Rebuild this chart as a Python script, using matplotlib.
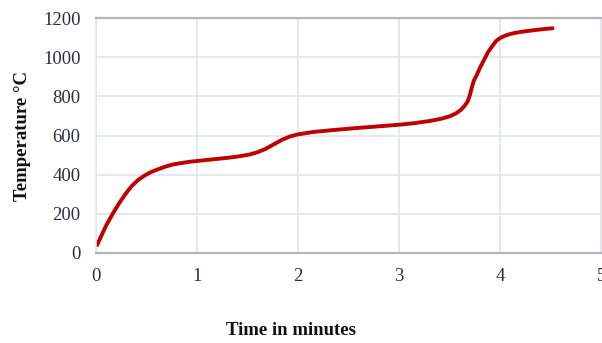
import matplotlib
matplotlib.use("Agg")
import matplotlib.pyplot as plt

# heating curve readings: time (min) vs temperature (deg C)
time_min = [0.01, 0.05, 0.10, 0.17, 0.23, 0.29, 0.35, 0.41, 0.47, 0.53,
            0.60, 0.68, 0.76, 0.85, 0.93, 1.00, 1.15, 1.30, 1.42, 1.52,
            1.60, 1.68, 1.76, 1.84, 1.92, 2.00, 2.15, 2.35, 2.55, 2.75,
            3.00, 3.15, 3.30, 3.42, 3.50, 3.56, 3.61, 3.65, 3.68, 3.70,
            3.72, 3.74, 3.77, 3.80, 3.84, 3.88, 3.92, 3.96, 4.00, 4.05,
            4.11, 4.18, 4.26, 4.35, 4.44, 4.52]
temp_c = [40, 85, 140, 205, 255, 300, 340, 370, 392, 410,
          425, 440, 452, 460, 466, 470, 478, 486, 494, 503,
          515, 532, 555, 578, 595, 606, 618, 628, 637, 645,
          655, 663, 674, 686, 698, 712, 730, 752, 775, 805,
          845, 880, 910, 945, 985, 1025, 1055, 1082, 1098, 1110,
          1120, 1127, 1133, 1139, 1144, 1148]

x_ticks = [0, 1, 2, 3, 4, 5]
y_ticks = [0, 200, 400, 600, 800, 1000, 1200]

serif = ["Liberation Serif", "DejaVu Serif"]
grid_col = "#e1e4ec"

fig = plt.figure(figsize=(6.02, 3.43), dpi=100)
ax = fig.add_axes([0.1595, 0.2624, 0.839, 0.685])

ax.plot(time_min, temp_c, color="#c00000", linewidth=2.8,
        solid_capstyle="round", solid_joinstyle="round")

ax.set_xlim(0, 5)
ax.set_ylim(0, 1200)
ax.set_xticks(x_ticks)
ax.set_yticks(y_ticks)
ax.grid(True, color=grid_col, linewidth=1.2)
ax.set_axisbelow(True)

for side in ["left", "right"]:
    ax.spines[side].set_color(grid_col)
    ax.spines[side].set_linewidth(1.2)
for side in ["top", "bottom"]:
    ax.spines[side].set_color("#b5b5b5")
    ax.spines[side].set_linewidth(1.6)

ax.tick_params(axis="x", length=0, pad=11, labelsize=13.5, labelcolor="#2e2e3e")
ax.tick_params(axis="y", length=0, pad=11, labelsize=13.5, labelcolor="#2e2e3e")
for lab in ax.get_xticklabels() + ax.get_yticklabels():
    lab.set_fontfamily(serif)

fig.text(0.037, 0.603, "Temperature °C", rotation=90, ha="center", va="center",
         fontsize=13.5, fontweight="bold", family=serif, color="#111111")
fig.text(0.483, 0.035, "Time in minutes", ha="center", va="center",
         fontsize=13.5, fontweight="bold", family=serif, color="#111111")

fig.savefig("out.png", dpi=100)
